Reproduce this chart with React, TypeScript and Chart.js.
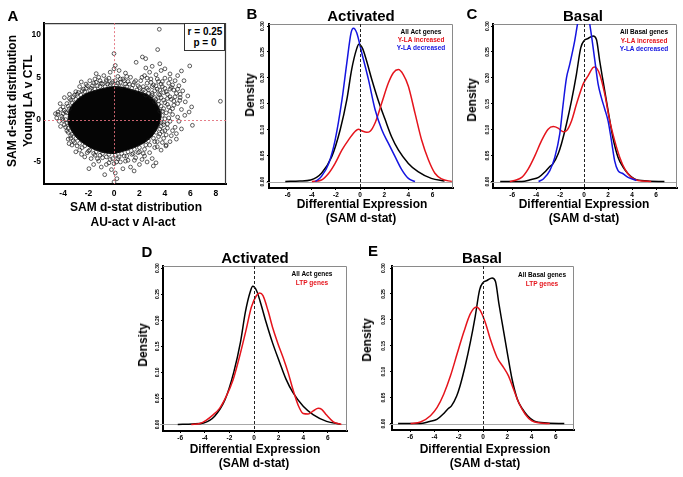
import React, { useEffect, useRef } from 'react';
import { Chart, registerables } from 'chart.js';
Chart.register(...registerables);

const FONT = '"Liberation Sans", Arial, Helvetica, sans-serif';
const RED = '#e5141c';
const BLUE = '#1414e0';

// ---------- Panel A: scatter ----------
const scatterXTicks = [-4, -2, 0, 2, 4, 6, 8];
const scatterYTicks = [-5, 0, 5, 10];
// dense core of the cloud (outline)
const coreOutline: [number, number][] = [
  [-3.6, 0.3], [-3.5, 1.2], [-3.2, 1.9], [-2.8, 2.5], [-2.3, 3.0], [-1.6, 3.4], [-0.8, 3.7], [0, 3.9],
  [0.8, 3.8], [1.5, 3.5], [2.2, 3.2], [2.8, 2.8], [3.2, 2.2], [3.5, 1.5], [3.7, 0.6], [3.6, -0.4],
  [3.3, -1.3], [2.9, -2.1], [2.3, -2.8], [1.6, -3.3], [0.8, -3.7], [0, -4.0], [-0.8, -3.9], [-1.6, -3.5],
  [-2.3, -2.9], [-2.9, -2.2], [-3.3, -1.4], [-3.6, -0.5], [-3.6, 0.3],
];
const edgePoints: [number, number][] = [
  [-3.8, 0.0], [-3.7, 0.8], [-3.5, 1.3], [-3.3, 2.0], [-3.0, 2.4], [-2.6, 2.9], [-2.3, 3.3], [-1.9, 3.5],
  [-1.5, 3.6], [-1.1, 3.9], [-0.7, 3.9], [-0.3, 4.1], [0.2, 4.0], [0.6, 3.9], [1.0, 3.9], [1.4, 3.7],
  [1.8, 3.5], [2.2, 3.3], [2.5, 2.9], [2.9, 2.7], [3.2, 2.1], [3.5, 1.8], [3.6, 1.0], [3.8, 0.5],
  [3.7, -0.3], [3.6, -1.1], [3.3, -1.5], [3.1, -2.2], [2.7, -2.5], [2.5, -3.0], [2.0, -3.3], [1.6, -3.5],
  [1.1, -3.8], [0.6, -4.0], [0.1, -4.2], [-0.4, -4.1], [-0.9, -4.0], [-1.4, -3.8], [-1.9, -3.6], [-2.3, -3.1],
  [-2.7, -2.8], [-3.0, -2.2], [-3.3, -1.7], [-3.6, -1.0], [-3.7, -0.4],
  [-2.9, 3.0], [-2.5, 3.4], [-2.2, 3.7], [-1.7, 4.0], [-1.4, 4.4], [-1.0, 4.3], [-0.5, 4.2], [-0.1, 4.5],
  [0.3, 4.3], [0.8, 4.6], [1.2, 4.2], [1.6, 4.4], [2.0, 3.8], [2.3, 3.5], [2.6, 3.7], [-0.6, 4.7],
  [0.5, 4.8], [1.0, 5.1], [-1.5, 4.8], [-2.2, 4.2],
  [2.7, 3.1], [3.0, 2.9], [3.3, 2.4], [3.5, 2.2], [3.7, 1.6], [3.9, 1.3], [4.1, 0.8], [4.0, 0.1],
  [3.7, 2.6], [4.0, 2.0], [4.3, 1.5], [4.5, 2.4], [3.2, 3.4], [3.6, 3.5], [4.2, 3.0], [4.4, 3.6],
  [3.9, 3.2], [2.9, 4.4], [3.3, 4.0], [3.7, 4.2], [4.6, 4.1], [4.0, 3.7], [3.4, 4.8], [2.6, 4.9],
  [4.4, 4.8], [5.0, 3.6], [5.2, 3.0], [4.8, 2.7], [4.4, 1.0], [4.7, 1.7],
  [3.9, -0.6], [3.8, -1.4], [3.5, -2.0], [3.2, -2.6], [2.8, -3.0], [2.4, -3.5], [4.2, -1.0], [4.1, -1.8],
  [3.8, -2.7], [3.4, -3.2], [4.4, -0.2], [4.6, -1.3],
  [1.9, -3.9], [1.5, -4.0], [1.0, -4.3], [0.4, -4.4], [-0.1, -4.6], [-0.6, -4.4], [-1.1, -4.2], [-1.6, -4.0],
  [-2.0, -3.7], [-2.5, -3.3], [0.9, -4.9], [0.2, -5.0], [-0.4, -5.1], [-1.3, -4.6], [1.6, -4.8], [2.3, -4.0],
  [-3.6, -1.5], [-3.8, -0.9], [-4.0, -0.1], [-4.0, 0.7], [-3.9, 1.1], [-3.7, 1.9], [-3.5, 2.5], [-3.2, 2.7],
  [-3.4, -2.2], [-3.1, -2.7], [-4.2, -0.8], [-4.2, 1.2], [-4.5, 0.2], [-4.6, 0.7],
];
const outerPoints: [number, number][] = [
  [3.56, 10.67], [3.43, 8.27], [0, 7.8], [2.23, 7.4], [2.49, 7.2], [5.95, 6.34], [1.74, 6.77], [0.1, 6.4],
  [8.36, 2.17], [6.16, -0.67], [-4.42, 0.63], [-4.05, 0.12], [0, -7.36], [-0.73, -6.5], [0.23, -6.97],
  [1.58, -6.06], [3.09, -5.47], [-1.97, -5.79], [-2.55, -4.1], [-3.53, -2.83], [-4.23, 1.89], [-2.57, 4.45],
  [-1.4, 5.43], [5.3, 5.75], [5.56, 0.51], [4.9, -1.65], [4.08, -3.11], [5.17, 2.28],
  [-2.4, 3.6], [-2.1, 4.0], [-1.8, 3.7], [-1.6, 4.3], [-1.3, 4.0], [-1.1, 4.6], [-0.9, 4.2], [-0.6, 4.5],
  [-0.4, 4.9], [-0.2, 4.3], [0.1, 4.6], [0.3, 5.1], [0.5, 4.4], [0.7, 4.8], [0.9, 4.2], [1.1, 4.5],
  [1.3, 5.0], [1.5, 4.1], [1.7, 4.6], [1.9, 4.0], [-0.3, 5.6], [0.4, 5.8], [-0.8, 5.2], [0.0, 6.0],
  [0.9, 5.5], [-1.9, 4.6], [-2.7, 3.9], [-3.0, 3.3], [-1.2, 5.0],
  [2.1, 4.6], [2.3, 3.9], [2.4, 5.2], [2.6, 4.3], [2.7, 3.5], [2.8, 5.6], [2.9, 4.8], [3.0, 3.1],
  [3.1, 4.1], [3.2, 2.6], [3.3, 5.3], [3.4, 3.6], [3.5, 4.5], [3.6, 2.9], [3.7, 5.8], [3.8, 3.9],
  [3.9, 2.3], [4.0, 4.9], [4.1, 3.3], [4.2, 1.8], [4.3, 4.3], [4.4, 2.7], [4.5, 3.8], [4.6, 1.3],
  [4.7, 2.2], [4.8, 4.6], [4.9, 3.1], [5.0, 1.9], [5.1, 4.0], [5.2, 2.6], [5.3, 1.2], [5.4, 3.4],
  [5.6, 2.1], [5.8, 2.8], [6.1, 1.5], [5.9, 0.9], [4.0, 6.0], [4.4, 5.4], [3.0, 6.3], [3.6, 6.6],
  [2.5, 6.1], [5.0, 5.2], [4.6, 0.6], [3.8, 1.0], [4.3, 0.2], [3.9, -0.3], [2.2, 5.0], [3.0, 3.9],
  [3.5, 3.0], [3.8, 4.5], [4.2, 2.5], [4.7, 3.5], [5.5, 4.6],
  [3.7, -0.8], [4.0, -1.3], [4.2, -0.5], [4.5, -1.9], [4.8, -0.9], [5.1, -0.2], [4.4, -2.6], [3.9, -2.2],
  [3.6, -1.7], [4.1, -3.0], [5.3, -1.1], [3.4, -2.6], [3.2, -3.3], [3.7, -3.6], [5.0, 0.3], [4.9, -2.3],
  [2.8, -3.9], [2.4, -4.3], [2.0, -3.8], [1.7, -4.5], [1.4, -4.1], [1.1, -4.8], [0.8, -4.3], [0.5, -5.0],
  [0.3, -4.6], [0.0, -5.2], [-0.3, -4.7], [-0.6, -5.3], [-0.9, -4.5], [-1.2, -4.9], [-1.5, -4.2], [-1.8, -4.6],
  [-2.1, -3.9], [-2.3, -4.4], [2.6, -5.0], [2.0, -5.3], [1.3, -5.6], [0.7, -5.8], [-0.2, -5.9], [-1.0, -5.6],
  [-1.6, -5.3], [3.0, -4.6], [3.3, -5.1], [2.2, -4.7], [0.1, -6.3],
  [-2.9, -3.1], [-3.2, -2.5], [-3.4, -1.9], [-3.7, -1.3], [-3.9, -0.6], [-4.1, 0.4], [-3.8, 0.9], [-3.6, 1.6],
  [-3.4, 2.3], [-3.1, 2.9], [-2.8, 3.2], [-4.3, -0.2], [-3.3, -3.0], [-2.7, -3.6], [-4.0, 1.5], [-3.9, 2.6],
  [-3.5, 3.0], [-3.0, -3.8], [-4.4, 0.9], [-3.6, -2.3],
];

// ---------- Density panels ----------
const densXTicks = [-6, -4, -2, 0, 2, 4, 6];
const densYTicks = [0, 0.05, 0.1, 0.15, 0.2, 0.25, 0.3];

// All activated genes (B and D)
const actAllX = [-6.2, -5, -4.1, -3.2, -2.35, -1.65, -1.1, -0.7, -0.3, -0.1, 0.2, 0.5, 0.97, 1.5, 2.07, 2.6, 3.17, 4, 4.8, 5.9, 7];
const actAllY = [0, 0.001, 0.003, 0.016, 0.048, 0.1, 0.158, 0.216, 0.255, 0.265, 0.257, 0.236, 0.197, 0.157, 0.12, 0.087, 0.061, 0.035, 0.019, 0.006, 0.001];
// Y-LA increased, activated (B)
const actIncX = [-4, -3.2, -2.6, -2.07, -1.5, -0.97, -0.4, -0.14, 0.14, 0.55, 0.83, 1.24, 1.8, 2.34, 2.76, 3.17, 3.59, 4, 4.55, 5.1, 5.66, 6.2, 6.76, 7.6];
const actIncY = [0, 0.003, 0.016, 0.035, 0.061, 0.08, 0.097, 0.101, 0.098, 0.095, 0.097, 0.113, 0.152, 0.19, 0.21, 0.216, 0.206, 0.184, 0.132, 0.08, 0.042, 0.016, 0.005, 0];
// Y-LA decreased, activated (B)
const actDecX = [-3.7, -3.2, -2.6, -2.07, -1.5, -1.1, -0.75, -0.55, -0.28, 0.14, 0.69, 1.24, 1.8, 2.34, 2.9, 3.45, 4, 4.55];
const actDecY = [0, 0.01, 0.035, 0.08, 0.158, 0.229, 0.287, 0.296, 0.287, 0.248, 0.197, 0.139, 0.1, 0.074, 0.048, 0.023, 0.006, 0];
// All basal genes (C and E)
const basAllX = [-7, -5.2, -4.4, -3.8, -3.3, -2.86, -2.6, -2.17, -1.9, -1.47, -1.05, -0.64, -0.28, 0, 0.33, 0.75, 1.03, 1.3, 1.58, 2, 2.4, 2.83, 3.25, 3.67, 4.2, 5.3, 6.7];
const basAllY = [0, 0.0, 0.004, 0.008, 0.018, 0.029, 0.034, 0.053, 0.072, 0.111, 0.156, 0.207, 0.258, 0.272, 0.276, 0.281, 0.274, 0.233, 0.194, 0.137, 0.085, 0.047, 0.028, 0.015, 0.005, 0.001, 0];
// Y-LA increased, basal (C)
const basIncX = [-6.2, -5.8, -5.2, -4.67, -4.1, -3.55, -3, -2.58, -2.17, -1.75, -1.47, -1.05, -0.64, -0.08, 0.33, 0.75, 0.9, 1.3, 1.72, 2.14, 2.55, 2.97, 3.4, 3.94, 4.5, 5.6];
const basIncY = [0, 0.002, 0.008, 0.024, 0.05, 0.079, 0.101, 0.106, 0.103, 0.096, 0.098, 0.117, 0.149, 0.188, 0.204, 0.22, 0.221, 0.207, 0.169, 0.117, 0.079, 0.047, 0.024, 0.008, 0.002, 0];
// Y-LA decreased, basal (C)
const basDecX = [-3.8, -3.4, -2.86, -2.44, -2.03, -1.75, -1.47, -1.2, -0.78, -0.5, -0.2, 0.1, 0.35, 0.6, 0.9, 1.17, 1.44, 1.72, 2, 2.28, 2.55, 2.83, 3.25, 3.67, 4.36];
const basDecY = [0, 0.005, 0.021, 0.047, 0.092, 0.149, 0.2, 0.226, 0.272, 0.31, 0.335, 0.34, 0.32, 0.284, 0.233, 0.188, 0.162, 0.14, 0.117, 0.079, 0.04, 0.021, 0.015, 0.008, 0.002];
// LTP genes, activated (D)
const actLtpX = [-5.1, -4.4, -3.9, -3.35, -2.8, -2.26, -1.7, -1.17, -0.63, -0.22, 0.19, 0.46, 0.73, 1.14, 1.55, 1.96, 2.37, 2.78, 3.18, 3.59, 4, 4.4, 4.82, 5.22, 5.5, 5.9, 6.45, 7.1];
const actLtpY = [0, 0.002, 0.008, 0.018, 0.031, 0.054, 0.086, 0.131, 0.183, 0.225, 0.247, 0.252, 0.247, 0.218, 0.183, 0.154, 0.128, 0.099, 0.066, 0.037, 0.021, 0.02, 0.026, 0.031, 0.029, 0.018, 0.005, 0];
// LTP genes, basal (E)
const basLtpX = [-5.97, -5.15, -4.33, -3.78, -3.23, -2.68, -2.14, -1.59, -1.04, -0.55, -0.22, 0.19, 0.6, 1.15, 1.7, 2.1, 2.52, 2.93, 3.48, 4.03, 4.7, 5.5];
const basLtpY = [0, 0.003, 0.015, 0.031, 0.057, 0.092, 0.134, 0.176, 0.212, 0.225, 0.218, 0.195, 0.163, 0.128, 0.108, 0.092, 0.066, 0.041, 0.018, 0.005, 0.001, 0];

// ---------- plugin for frame, zero line, reference lines ----------
const framePlugin: any = {
  id: 'frame',
  beforeDatasetsDraw(chart: any, _a: any, o: any) {
    const { ctx, chartArea: a, scales } = chart;
    ctx.save();
    if (o.zeroColor) {
      const py = Math.round(scales.y.getPixelForValue(0)) + 0.5;
      ctx.strokeStyle = o.zeroColor;
      ctx.lineWidth = 1;
      ctx.beginPath();
      ctx.moveTo(a.left - 3, py);
      ctx.lineTo(a.right, py);
      ctx.stroke();
    }
    ctx.strokeStyle = o.boxColor;
    ctx.lineWidth = o.boxWidth;
    ctx.beginPath();
    ctx.moveTo(a.left, a.top + 0.5);
    ctx.lineTo(a.right - 0.5, a.top + 0.5);
    ctx.lineTo(a.right - 0.5, a.bottom);
    ctx.stroke();
    ctx.restore();
  },
  afterDatasetsDraw(chart: any, _a: any, o: any) {
    const { ctx, chartArea: a, scales } = chart;
    ctx.save();
    ctx.strokeStyle = o.refColor;
    ctx.lineWidth = o.refWidth;
    ctx.setLineDash([o.dashOn, o.dashOff]);
    const px = Math.round(scales.x.getPixelForValue(0)) + 0.5;
    ctx.beginPath();
    ctx.moveTo(px, a.top);
    ctx.lineTo(px, a.bottom);
    ctx.stroke();
    if (o.refH) {
      const py = Math.round(scales.y.getPixelForValue(0)) + 0.5;
      ctx.beginPath();
      ctx.moveTo(a.left, py);
      ctx.lineTo(a.right, py);
      ctx.stroke();
    }
    ctx.restore();
  },
};

type Rect = { L: number; T: number; R: number; B: number };
type Series = { xs: number[]; ys: number[]; color: string; order: number };

const Y_W = 30;
const X_H = 18;
const M_T = 8;
const M_R = 8;

function ChartCanvas({ rect, build }: { rect: Rect; build: () => any }) {
  const ref = useRef<HTMLCanvasElement | null>(null);
  const w = rect.R - rect.L + Y_W + M_R;
  const h = rect.B - rect.T + M_T + X_H;
  useEffect(() => {
    if (!ref.current) return;
    const c = new Chart(ref.current, build());
    return () => c.destroy();
  }, []);
  return (
    <canvas
      ref={ref}
      width={w}
      height={h}
      style={{ position: 'absolute', left: rect.L - Y_W, top: rect.T - M_T, width: w, height: h }}
    />
  );
}

function baseScales(o: {
  xMin: number; xMax: number; yMin: number; yMax: number; xTicks: number[]; yTicks: number[];
  xFont: number; yFont: number; yRot: number; yPad: number; xPad: number; tick: number; yFmt: (v: number) => string;
}) {
  const grid = { drawOnChartArea: false, drawTicks: o.tick > 0, tickLength: o.tick, color: '#000', lineWidth: 1 };
  return {
    x: {
      type: 'linear',
      min: o.xMin,
      max: o.xMax,
      afterBuildTicks: (s: any) => { s.ticks = o.xTicks.map((v) => ({ value: v })); },
      afterFit: (s: any) => { s.height = X_H; },
      grid,
      border: { display: true, color: '#000', width: 2 },
      ticks: {
        autoSkip: false, maxRotation: 0, minRotation: 0, padding: o.xPad, color: '#000',
        font: { family: FONT, size: o.xFont, weight: 'bold' },
        callback: (v: any) => String(v),
      },
    },
    y: {
      type: 'linear',
      min: o.yMin,
      max: o.yMax,
      afterBuildTicks: (s: any) => { s.ticks = o.yTicks.map((v) => ({ value: v })); },
      afterFit: (s: any) => { s.width = Y_W; },
      grid,
      border: { display: true, color: '#000', width: 2 },
      ticks: {
        autoSkip: false, minRotation: o.yRot, maxRotation: o.yRot, padding: o.yPad, color: '#000',
        crossAlign: o.yRot ? 'center' : 'near',
        font: { family: FONT, size: o.yFont, weight: 'bold' },
        callback: (v: any) => o.yFmt(Number(v)),
      },
    },
  };
}

function densityBuilder(p: { xMin: number; xMax: number; series: Series[]; yPad: number }) {
  return () => ({
    type: 'scatter',
    data: {
      datasets: p.series.map((s) => ({
        data: s.xs.map((x, i) => ({ x, y: s.ys[i] })),
        showLine: true,
        borderColor: s.color,
        borderWidth: 1.5,
        pointRadius: 0,
        tension: 0.4,
        cubicInterpolationMode: 'monotone',
        fill: false,
        clip: 0,
        order: s.order,
      })),
    },
    options: {
      responsive: false,
      animation: false,
      devicePixelRatio: 1,
      events: [],
      layout: { padding: { left: 0, top: M_T, right: M_R, bottom: 0 } },
      plugins: {
        legend: { display: false },
        tooltip: { enabled: false },
        frame: { zeroColor: '#a8a8a8', boxColor: '#8a8a8a', boxWidth: 1, refColor: '#222', refWidth: 1, dashOn: 3, dashOff: 2, refH: false },
      },
      scales: baseScales({
        xMin: p.xMin, xMax: p.xMax, yMin: -0.0125, yMax: 0.304, xTicks: densXTicks, yTicks: densYTicks,
        xFont: 6.5, yFont: 5, yRot: 90, yPad: p.yPad, xPad: 1, tick: 2, yFmt: (v) => v.toFixed(2),
      }),
    },
    plugins: [framePlugin],
  });
}

function scatterBuilder() {
  const pts = [...edgePoints, ...outerPoints].map(([x, y]) => ({ x, y }));
  return {
    type: 'scatter',
    data: {
      datasets: [
        {
          data: pts,
          pointRadius: 1.9,
          pointBorderWidth: 0.7,
          borderColor: '#1a1a1a',
          backgroundColor: 'rgba(0,0,0,0)',
          pointBackgroundColor: 'rgba(0,0,0,0)',
          pointBorderColor: '#1a1a1a',
          showLine: false,
          order: 1,
        },
        {
          data: coreOutline.map(([x, y]) => ({ x, y })),
          showLine: true,
          fill: 'shape',
          backgroundColor: '#050505',
          borderColor: '#050505',
          borderWidth: 1,
          pointRadius: 0,
          tension: 0.2,
          order: 2,
        },
      ],
    },
    options: {
      responsive: false,
      animation: false,
      devicePixelRatio: 1,
      events: [],
      layout: { padding: { left: 0, top: M_T, right: M_R, bottom: 0 } },
      plugins: {
        legend: { display: false },
        tooltip: { enabled: false },
        frame: { zeroColor: '', boxColor: '#3a3a3a', boxWidth: 1.2, refColor: '#e2707c', refWidth: 0.9, dashOn: 2, dashOff: 2, refH: true },
      },
      scales: baseScales({
        xMin: -5.5, xMax: 8.8, yMin: -7.6, yMax: 11.4, xTicks: scatterXTicks, yTicks: scatterYTicks,
        xFont: 8.5, yFont: 8.5, yRot: 0, yPad: 3, xPad: 5, tick: 0, yFmt: (v) => String(v),
      }),
    },
    plugins: [framePlugin],
  };
}

function Txt({ x, y, t, size, color = '#000', rot = false }: { x: number; y: number; t: string; size: number; color?: string; rot?: boolean }) {
  return (
    <div
      style={{
        position: 'absolute', left: x, top: y, transform: `translate(-50%, -50%)${rot ? ' rotate(-90deg)' : ''}`,
        fontSize: size, fontWeight: 700, color, whiteSpace: 'nowrap', lineHeight: 1, fontFamily: FONT,
      }}
    >
      {t}
    </div>
  );
}

const rectA: Rect = { L: 44, T: 23, R: 226, B: 184 };
const rectB: Rect = { L: 269, T: 24, R: 453, B: 188 };
const rectC: Rect = { L: 493, T: 24, R: 677, B: 188 };
const rectD: Rect = { L: 163, T: 266, R: 347, B: 431 };
const rectE: Rect = { L: 392, T: 266, R: 574, B: 430 };

export default function App() {
  return (
    <div style={{ position: 'absolute', left: 0, top: 0, width: 683, height: 477, background: '#fff', overflow: 'hidden', fontFamily: FONT }}>
      <ChartCanvas rect={rectA} build={scatterBuilder} />
      <ChartCanvas rect={rectB} build={densityBuilder({ xMin: -7.55, xMax: 7.7, yPad: 0, series: [
        { xs: actAllX, ys: actAllY, color: '#000', order: 3 },
        { xs: actIncX, ys: actIncY, color: RED, order: 2 },
        { xs: actDecX, ys: actDecY, color: BLUE, order: 1 },
      ] })} />
      <ChartCanvas rect={rectC} build={densityBuilder({ xMin: -7.6, xMax: 7.75, yPad: -1, series: [
        { xs: basAllX, ys: basAllY, color: '#000', order: 3 },
        { xs: basIncX, ys: basIncY, color: RED, order: 2 },
        { xs: basDecX, ys: basDecY, color: BLUE, order: 1 },
      ] })} />
      <ChartCanvas rect={rectD} build={densityBuilder({ xMin: -7.4, xMax: 7.56, yPad: -1, series: [
        { xs: actAllX, ys: actAllY, color: '#000', order: 2 },
        { xs: actLtpX, ys: actLtpY, color: RED, order: 1 },
      ] })} />
      <ChartCanvas rect={rectE} build={densityBuilder({ xMin: -7.5, xMax: 7.5, yPad: 2, series: [
        { xs: basAllX, ys: basAllY, color: '#000', order: 2 },
        { xs: basLtpX, ys: basLtpY, color: RED, order: 1 },
      ] })} />

      {/* Panel A text */}
      <Txt x={13} y={15} t="A" size={15} />
      <Txt x={12} y={101} t="SAM d-stat distribution" size={12} rot />
      <Txt x={28} y={101} t="Young LA v CTL" size={12} rot />
      <Txt x={136} y={207} t="SAM d-stat distribution" size={12} />
      <Txt x={133} y={222} t="AU-act v AI-act" size={12} />
      <div style={{ position: 'absolute', left: 184, top: 23, width: 41, height: 28, border: '1.3px solid #333', background: '#fff', boxSizing: 'border-box' }} />
      <Txt x={205} y={32} t="r = 0.25" size={10} />
      <Txt x={205} y={43} t="p = 0" size={10} />

      {/* Panel B text */}
      <Txt x={252} y={13} t="B" size={15} />
      <Txt x={361} y={15} t="Activated" size={15} />
      <Txt x={250} y={95} t="Density" size={12} rot />
      <Txt x={362} y={204} t="Differential Expression" size={12} />
      <Txt x={361} y={218} t="(SAM d-stat)" size={12} />
      <Txt x={421} y={32} t="All Act genes" size={6.5} />
      <Txt x={421} y={40} t="Y-LA increased" size={6.5} color={RED} />
      <Txt x={421} y={48} t="Y-LA decreased" size={6.5} color={BLUE} />

      {/* Panel C text */}
      <Txt x={472} y={13} t="C" size={15} />
      <Txt x={583} y={15} t="Basal" size={15} />
      <Txt x={472} y={100} t="Density" size={12} rot />
      <Txt x={584} y={204} t="Differential Expression" size={12} />
      <Txt x={584} y={218} t="(SAM d-stat)" size={12} />
      <Txt x={644} y={32} t="All Basal genes" size={6.5} />
      <Txt x={644} y={41} t="Y-LA increased" size={6.5} color={RED} />
      <Txt x={644} y={49} t="Y-LA decreased" size={6.5} color={BLUE} />

      {/* Panel D text */}
      <Txt x={147} y={251} t="D" size={15} />
      <Txt x={255} y={257} t="Activated" size={15} />
      <Txt x={143} y={345} t="Density" size={12} rot />
      <Txt x={255} y={449} t="Differential Expression" size={12} />
      <Txt x={254} y={463} t="(SAM d-stat)" size={12} />
      <Txt x={312} y={274} t="All Act genes" size={6.5} />
      <Txt x={312} y={283} t="LTP genes" size={6.5} color={RED} />

      {/* Panel E text */}
      <Txt x={373} y={250} t="E" size={15} />
      <Txt x={482} y={257} t="Basal" size={15} />
      <Txt x={367} y={340} t="Density" size={12} rot />
      <Txt x={485} y={449} t="Differential Expression" size={12} />
      <Txt x={485} y={463} t="(SAM d-stat)" size={12} />
      <Txt x={542} y={275} t="All Basal genes" size={6.5} />
      <Txt x={542} y={284} t="LTP genes" size={6.5} color={RED} />
    </div>
  );
}
